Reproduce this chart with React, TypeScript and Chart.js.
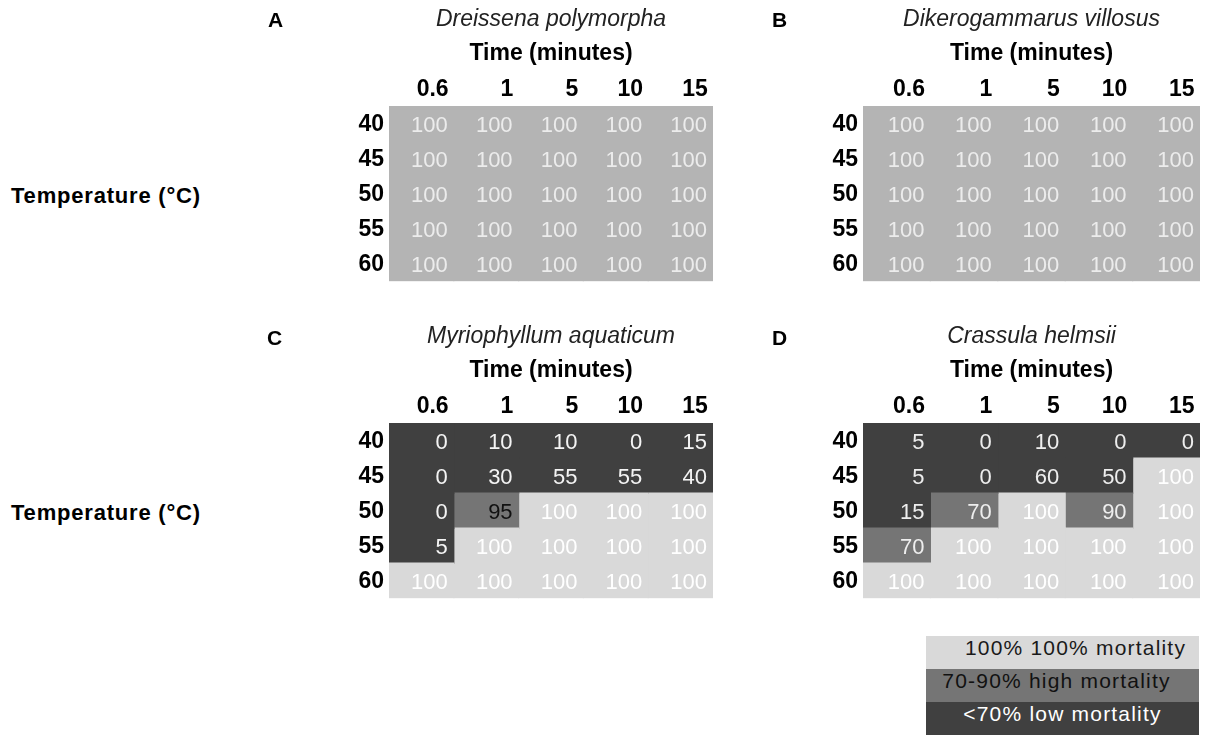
import React, { useEffect, useRef } from 'react';
import { Chart, registerables } from 'chart.js';

Chart.register(...registerables);

const FONT_FAMILY = "'Liberation Sans', Arial, Helvetica, sans-serif";
Chart.defaults.font.family = FONT_FAMILY;

// ---------- data ----------
const timeLabels = ['0.6', '1', '5', '10', '15'];
const tempLabels = ['40', '45', '50', '55', '60'];

const dreissenaValues = [
  [100, 100, 100, 100, 100],
  [100, 100, 100, 100, 100],
  [100, 100, 100, 100, 100],
  [100, 100, 100, 100, 100],
  [100, 100, 100, 100, 100],
];

const dikerogammarusValues = [
  [100, 100, 100, 100, 100],
  [100, 100, 100, 100, 100],
  [100, 100, 100, 100, 100],
  [100, 100, 100, 100, 100],
  [100, 100, 100, 100, 100],
];

const myriophyllumValues = [
  [0, 10, 10, 0, 15],
  [0, 30, 55, 55, 40],
  [0, 95, 100, 100, 100],
  [5, 100, 100, 100, 100],
  [100, 100, 100, 100, 100],
];

const crassulaValues = [
  [5, 0, 10, 0, 0],
  [5, 0, 60, 50, 100],
  [15, 70, 100, 90, 100],
  [70, 100, 100, 100, 100],
  [100, 100, 100, 100, 100],
];

const legendLabels = ['100% 100% mortality', '70-90% high mortality', '<70% low mortality'];

// ---------- styles ----------
const FILL = { full: '#d9d9d9', high: '#757575', low: '#404040', uniform: '#b4b4b4' };

function band(v: number): 'full' | 'high' | 'low' {
  if (v >= 100) return 'full';
  if (v >= 70) return 'high';
  return 'low';
}

type PanelProps = {
  left: number;
  top: number;
  width: number;
  height: number;
  padding: { left: number; right: number; top: number; bottom: number };
  title: string;
  values: number[][];
  fill: (v: number) => string;
  textColor: (v: number) => string;
};

function Panel(props: PanelProps) {
  const ref = useRef<HTMLCanvasElement | null>(null);
  useEffect(() => {
    const { values, fill, textColor, title, padding } = props;
    const datasets = timeLabels.map((t, c) => ({
      label: t,
      data: tempLabels.map(() => [c, c + 1]),
      backgroundColor: values.map((row) => fill(row[c])),
      borderWidth: 0,
      inflateAmount: 0.6,
    }));

    const cellLabels = {
      id: 'cellLabels',
      afterDatasetsDraw(chart: any) {
        const ctx = chart.ctx;
        ctx.save();
        ctx.font = `normal 22px ${FONT_FAMILY}`;
        ctx.textAlign = 'right';
        ctx.textBaseline = 'middle';
        chart.data.datasets.forEach((_ds: any, c: number) => {
          const meta = chart.getDatasetMeta(c);
          meta.data.forEach((bar: any, r: number) => {
            const p = bar.getProps(['x', 'base', 'y'], true);
            const v = values[r][c];
            ctx.fillStyle = textColor(v);
            ctx.fillText(String(v), Math.max(p.x, p.base) - 6, p.y + 2);
          });
        });
        ctx.restore();
      },
    };

    const boldFont = { family: FONT_FAMILY, size: 23, weight: 'bold' as const };

    const chart = new Chart(ref.current as HTMLCanvasElement, {
      type: 'bar',
      data: { labels: tempLabels, datasets: datasets as any },
      options: {
        indexAxis: 'y',
        responsive: false,
        animation: false,
        events: [],
        layout: { padding, autoPadding: false },
        datasets: {
          bar: { grouped: false, barPercentage: 1, categoryPercentage: 1 },
        },
        scales: {
          x: {
            type: 'linear',
            position: 'top',
            min: 0,
            max: 5,
            grid: { display: false, drawTicks: false },
            border: { display: false },
            afterBuildTicks: (scale: any) => {
              scale.ticks = timeLabels.map((_l, i) => ({ value: i + 1 - 0.08 }));
            },
            ticks: {
              align: 'end',
              autoSkip: false,
              maxRotation: 0,
              padding: 2.2,
              color: '#000',
              font: boldFont,
              callback: (_v: any, i: number) => timeLabels[i],
            },
          },
          y: {
            type: 'category',
            grid: { display: false, drawTicks: false },
            border: { display: false },
            afterFit: (scale: any) => {
              scale.width = 40;
            },
            ticks: { padding: 5, labelOffset: 1, color: '#000', font: boldFont },
          },
        },
        plugins: {
          legend: { display: false },
          tooltip: { enabled: false },
          title: {
            display: true,
            text: title,
            fullSize: false,
            color: '#222',
            font: { family: FONT_FAMILY, size: 23, style: 'italic', weight: 'normal' },
            padding: { top: 5.5, bottom: 3 },
          },
          subtitle: {
            display: true,
            text: 'Time (minutes)',
            fullSize: false,
            color: '#000',
            font: boldFont,
            padding: { top: 3.6, bottom: 6.7 },
          },
        },
      } as any,
      plugins: [cellLabels],
    });
    return () => chart.destroy();
  }, []);

  return (
    <canvas
      ref={ref}
      width={props.width}
      height={props.height}
      style={{ position: 'absolute', left: props.left, top: props.top, width: props.width, height: props.height }}
    />
  );
}

const uniformFill = () => FILL.uniform;
const uniformText = () => '#ececec';
const bandFill = (v: number) => FILL[band(v)];
const textC = (v: number) => (band(v) === 'high' ? '#111111' : band(v) === 'full' ? '#ffffff' : '#f4f4f4');
const textD = (v: number) => (band(v) === 'full' ? '#ffffff' : '#eeeeee');

const letterStyle = (left: number, top: number): React.CSSProperties => ({
  position: 'absolute',
  left,
  top,
  font: `bold 21px ${FONT_FAMILY}`,
  lineHeight: '21px',
  color: '#000',
});

const tempStyle = (top: number): React.CSSProperties => ({
  position: 'absolute',
  left: 11,
  top,
  font: `bold 22px ${FONT_FAMILY}`,
  lineHeight: '22px',
  letterSpacing: '0.8px',
  color: '#000',
  whiteSpace: 'nowrap',
});

const legendFills = [FILL.full, FILL.high, FILL.low];
const legendText = ['#1a1a1a', '#111111', '#ffffff'];
const legendPad = [
  { paddingLeft: 26, paddingRight: 0 },
  { paddingLeft: 0, paddingRight: 12 },
  { paddingLeft: 0, paddingRight: 0 },
];

export default function App() {
  const padLeftA = { left: 89, right: 17, top: 0, bottom: 17 };
  const padLeftB = { left: 83, right: 10, top: 0, bottom: 17 };
  return (
    <div
      style={{
        position: 'absolute',
        left: 0,
        top: 0,
        width: 1210,
        height: 735,
        overflow: 'hidden',
        background: '#fff',
      }}
    >
      <Panel left={260} top={0} width={470} height={300} padding={padLeftA} title="Dreissena polymorpha" values={dreissenaValues} fill={uniformFill} textColor={uniformText} />
      <Panel left={740} top={0} width={470} height={300} padding={padLeftB} title="Dikerogammarus villosus" values={dikerogammarusValues} fill={uniformFill} textColor={uniformText} />
      <Panel left={260} top={317} width={470} height={300} padding={padLeftA} title="Myriophyllum aquaticum" values={myriophyllumValues} fill={bandFill} textColor={textC} />
      <Panel left={740} top={317} width={470} height={300} padding={padLeftB} title="Crassula helmsii" values={crassulaValues} fill={bandFill} textColor={textD} />

      <div style={letterStyle(268, 9)}>A</div>
      <div style={letterStyle(772, 9)}>B</div>
      <div style={letterStyle(267, 327)}>C</div>
      <div style={letterStyle(772, 327)}>D</div>

      <div style={tempStyle(185)}>Temperature (°C)</div>
      <div style={tempStyle(502)}>Temperature (°C)</div>

      <div style={{ position: 'absolute', left: 926, top: 636, width: 273 }}>
        {legendLabels.map((l, i) => (
          <div
            key={l}
            style={{
              boxSizing: 'border-box',
              height: 33,
              lineHeight: '33px',
              background: legendFills[i],
              color: legendText[i],
              font: `normal 21px ${FONT_FAMILY}`,
              letterSpacing: '1.2px',
              textAlign: 'center',
              whiteSpace: 'nowrap',
              ...legendPad[i],
            }}
          >
            {l}
          </div>
        ))}
      </div>
    </div>
  );
}
